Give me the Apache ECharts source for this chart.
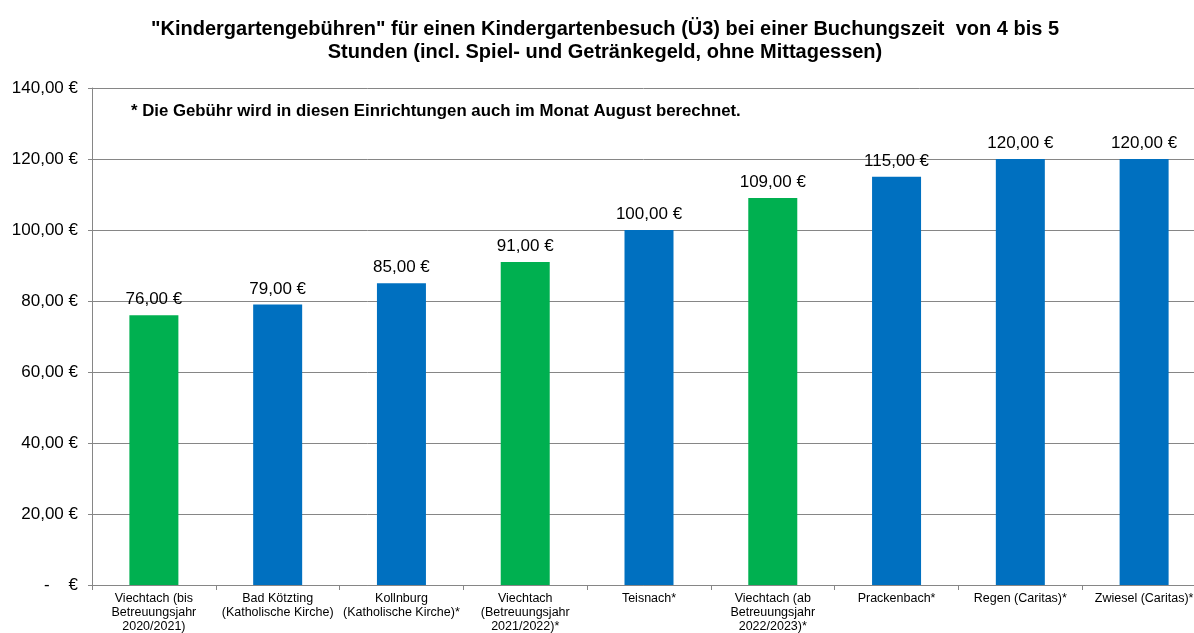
<!DOCTYPE html>
<html>
<head>
<meta charset="utf-8">
<script src="https://cdn.jsdelivr.net/npm/echarts@6/dist/echarts.min.js"></script>
<style>
  html, body { margin: 0; padding: 0; background: #fff; }
  #chart { width: 1194px; height: 633px; }
</style>
</head>
<body>
<div id="chart"></div>
<script>
const categories = [
  "Viechtach (bis\nBetreuungsjahr\n2020/2021)",
  "Bad Kötzting\n(Katholische Kirche)",
  "Kollnburg\n(Katholische Kirche)*",
  "Viechtach\n(Betreuungsjahr\n2021/2022)*",
  "Teisnach*",
  "Viechtach (ab\nBetreuungsjahr\n2022/2023)*",
  "Prackenbach*",
  "Regen (Caritas)*",
  "Zwiesel (Caritas)*"
];
const fees = [76, 79, 85, 91, 100, 109, 115, 120, 120];
const isViechtach = [true, false, false, true, false, true, false, false, false];

const GREEN = "#00b050";
const BLUE = "#0070c0";
const FONT = "Liberation Sans, Arial, sans-serif";

function euro(v) {
  if (v === 0) return "-    €";
  return v.toFixed(2).replace(".", ",") + " €";
}

const chart = echarts.init(document.getElementById("chart"));
chart.setOption({
  animation: false,
  title: {
    text: '"Kindergartengebühren" für einen Kindergartenbesuch (Ü3) bei einer Buchungszeit  von 4 bis 5\nStunden (incl. Spiel- und Getränkegeld, ohne Mittagessen)',
    left: 605,
    top: 18,
    padding: 0,
    textAlign: "center",
    textStyle: { fontFamily: FONT, fontSize: 20, fontWeight: "bold", color: "#000", lineHeight: 23 }
  },
  graphic: [{
    type: "text",
    left: 131,
    top: 103,
    style: {
      text: "* Die Gebühr wird in diesen Einrichtungen auch im Monat August berechnet.",
      font: "bold 16.8px Liberation Sans, Arial, sans-serif",
      fill: "#000"
    }
  }],
  // plot area runs slightly past the right edge, as in the source image
  grid: { left: 92, width: 1114, top: 88, bottom: 48, outerBoundsMode: "none" },
  xAxis: {
    type: "category",
    data: categories,
    axisLine: { lineStyle: { color: "#868686" } },
    axisTick: { show: true, alignWithLabel: false, length: 5, lineStyle: { color: "#868686" } },
    axisLabel: {
      interval: 0,
      fontFamily: FONT,
      fontSize: 12.5,
      color: "#000",
      lineHeight: 14,
      margin: 7
    }
  },
  yAxis: {
    type: "value",
    min: 0,
    max: 140,
    interval: 20,
    axisLine: { show: true, lineStyle: { color: "#868686" } },
    axisTick: { show: true, length: 4, lineStyle: { color: "#868686" } },
    splitLine: { lineStyle: { color: "#868686", width: 1 } },
    axisLabel: {
      formatter: euro,
      fontFamily: FONT,
      fontSize: 17,
      color: "#000",
      margin: 14
    }
  },
  series: [{
    type: "bar",
    barWidth: 49,
    data: fees.map((v, i) => ({
      value: v,
      itemStyle: { color: isViechtach[i] ? GREEN : BLUE }
    })),
    label: {
      show: true,
      position: "top",
      distance: 7,
      formatter: p => euro(p.value),
      fontFamily: FONT,
      fontSize: 17,
      color: "#000"
    }
  }]
});
</script>
</body>
</html>
